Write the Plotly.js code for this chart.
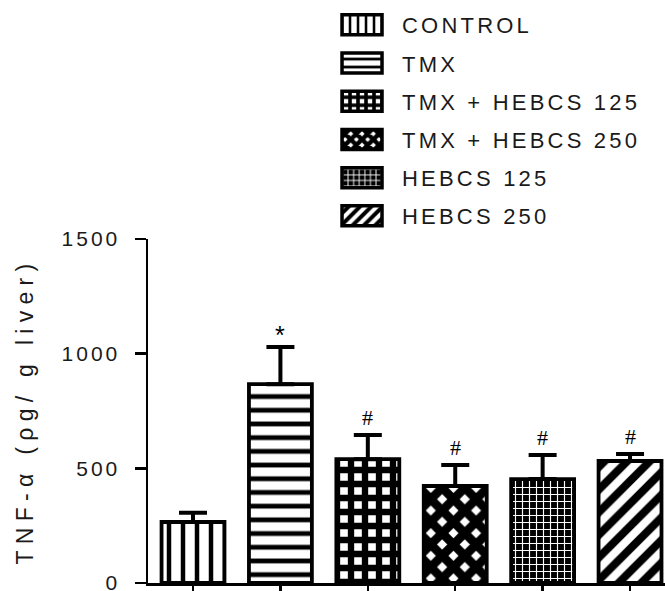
<!DOCTYPE html>
<html>
<head>
<meta charset="utf-8">
<script src="https://cdn.plot.ly/plotly-3.0.1.min.js"></script>
<style>
  html, body { margin: 0; padding: 0; background: #fff; }
  svg text { letter-spacing: 3px; }
  svg text.legendtext { letter-spacing: 3.2px; }
  svg text.ytitle { letter-spacing: 6.3px; }
  svg text.annotation-text { letter-spacing: 0px; }
  .legend .scrollbox { clip-path: none !important; }
  .legend .legendpoints path { d: path("M20,10H-20V-10H20Z"); stroke-width: 3.5px !important; stroke: #000 !important; }
</style>
</head>
<body>
<div id="chart" style="width:665px;height:591px;"></div>
<script>
// ---- data ----
const categories = ['CONTROL', 'TMX', 'TMX + HEBCS 125', 'TMX + HEBCS 250', 'HEBCS 125', 'HEBCS 250'];
const means = [266, 867, 540, 423, 453, 532];
const sems = [40, 162, 105, 91, 105, 30];
const marks = ['', '*', '#', '#', '#', '#'];
const yTicks = [0, 500, 1000, 1500];
const yTitle = 'TNF-α (ρg/ g liver)';

// ---- styles ----
const patterns = [
  {shape: '|', fgcolor: '#000', bgcolor: '#fff', size: 14, solidity: 0.32, fillmode: 'replace'},
  {shape: '-', fgcolor: '#000', bgcolor: '#fff', size: 13.7, solidity: 0.35, fillmode: 'replace'},
  {shape: '+', fgcolor: '#000', bgcolor: '#fff', size: 14, solidity: 0.7, fillmode: 'replace'},
  {shape: 'x', fgcolor: '#000', bgcolor: '#fff', size: 16, solidity: 0.8, fillmode: 'replace'},
  {shape: '+', fgcolor: '#fff', bgcolor: '#000', size: 7, solidity: 0.3, fillmode: 'replace'},
  {shape: '/', fgcolor: '#000', bgcolor: '#fff', size: 16, solidity: 0.5, fillmode: 'replace'}
];

const traces = categories.map((c, i) => ({
  type: 'bar',
  name: c,
  legendgroup: 'g' + i,
  x: [c],
  y: [means[i]],
  width: 0.72,
  marker: {
    color: '#fff',
    line: {color: '#000', width: 3.8},
    pattern: patterns[i]
  },
  error_y: {
    type: 'data',
    symmetric: false,
    array: [sems[i]],
    arrayminus: [0],
    color: '#000',
    thickness: 4,
    width: 14
  },
  hoverinfo: 'skip'
}));

const annotations = categories.map((c, i) => ({
  x: c,
  y: means[i] + sems[i],
  xref: 'x', yref: 'y',
  text: marks[i],
  showarrow: false,
  yanchor: 'bottom',
  yshift: marks[i] === '*' ? -4 : 3,
  font: marks[i] === '*'
    ? {family: 'Liberation Sans, Arial, sans-serif', size: 25, color: '#000'}
    : {family: 'Liberation Serif, Times New Roman, serif', size: 22, color: '#000'}
})).filter(a => a.text !== '');

const layout = {
  width: 665, height: 591,
  margin: {l: 148, r: 0, t: 239, b: 8, pad: 0},
  paper_bgcolor: '#fff', plot_bgcolor: '#fff',
  font: {family: 'Liberation Sans, Arial, sans-serif', size: 21, color: '#1a1a1a'},
  barmode: 'overlay',
  showlegend: true,
  legend: {
    x: 0.3366, y: 1.683, xanchor: 'left', yanchor: 'top',
    traceorder: 'grouped', tracegroupgap: 6.6, itemwidth: 70,
    font: {family: 'Liberation Sans, Arial, sans-serif', size: 22, color: '#1a1a1a'},
    bgcolor: 'rgba(0,0,0,0)', borderwidth: 0
  },
  xaxis: {
    type: 'category',
    categoryorder: 'array', categoryarray: categories,
    range: [-0.515, 5.4],
    showline: true, linecolor: '#000', linewidth: 2.5,
    ticks: 'outside', ticklen: 10, tickwidth: 2.5, tickcolor: '#000',
    showticklabels: false, showgrid: false, zeroline: false,
    fixedrange: true
  },
  yaxis: {
    range: [0, 1500],
    tickvals: yTicks,
    ticktext: yTicks.map(String),
    showline: true, linecolor: '#000', linewidth: 2.5,
    ticks: 'outside', ticklen: 11, tickwidth: 2.5, tickcolor: '#000',
    ticklabelstandoff: 10,
    ticklabeloverflow: 'allow',
    showgrid: false, zeroline: false,
    tickfont: {size: 21, color: '#1a1a1a'},
    title: {text: yTitle, font: {size: 23, color: '#1a1a1a'}, standoff: 22},
    fixedrange: true
  },
  annotations: annotations
};

Plotly.newPlot('chart', traces, layout, {displayModeBar: false, staticPlot: true});
</script>
</body>
</html>
